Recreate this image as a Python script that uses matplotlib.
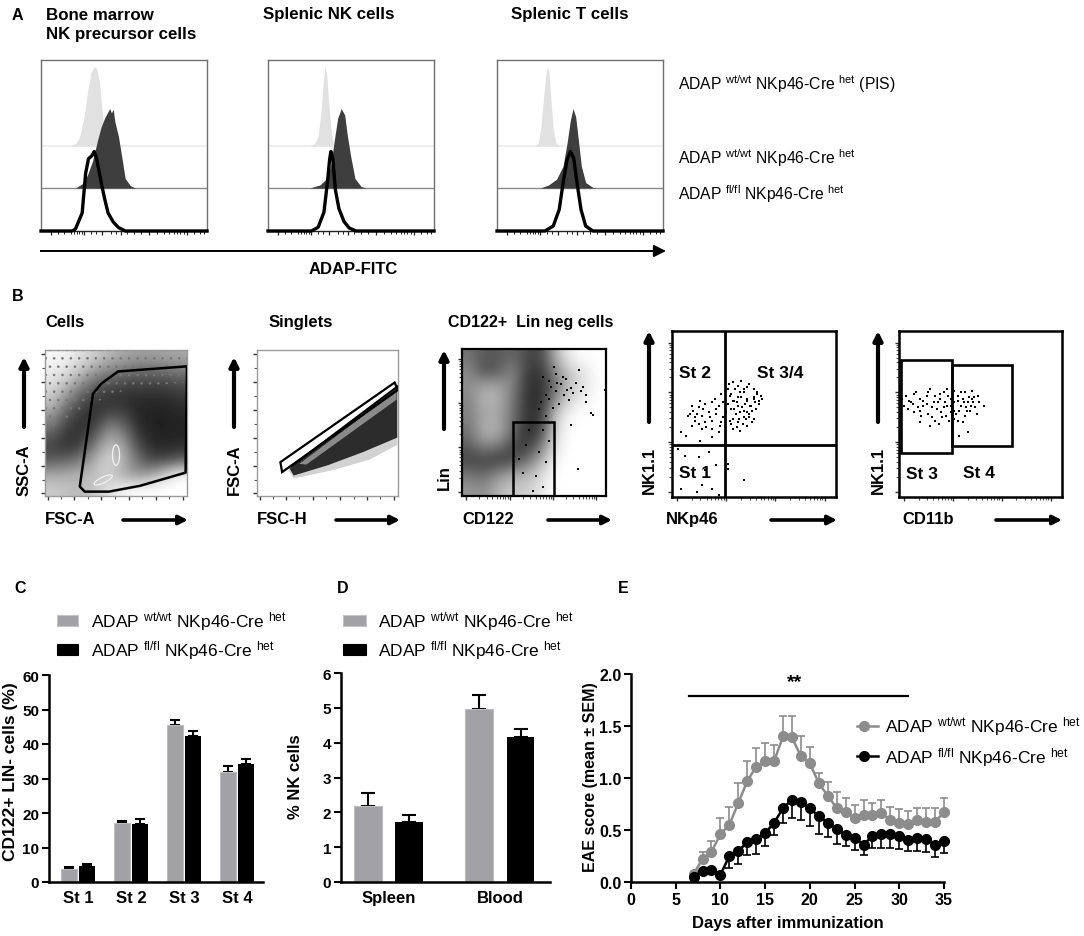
import matplotlib
matplotlib.use('Agg')
import matplotlib.pyplot as plt
import numpy as np
from matplotlib.patches import Polygon, Rectangle, Ellipse

W, H = 1084, 937
plt.rcParams['font.family'] = ['Liberation Sans', 'DejaVu Sans']
plt.rcParams['mathtext.fontset'] = 'custom'
plt.rcParams['mathtext.rm'] = 'Liberation Sans'
plt.rcParams['mathtext.it'] = 'Liberation Sans:italic'
plt.rcParams['mathtext.bf'] = 'Liberation Sans:bold'
plt.rcParams['hatch.linewidth'] = 0.6

# ------------------------------------------------------------------ data
# Panel A: histogram outlines
# x = position along the ADAP-FITC axis (fraction), h = height relative to mode
bm_pis_x = [0.176, 0.211, 0.232, 0.259, 0.280, 0.300, 0.321, 0.337, 0.352, 0.366, 0.383, 0.404]
bm_pis_h = [0, 0.036, 0.112, 0.359, 0.673, 0.919, 1.0, 0.964, 0.807, 0.493, 0.135, 0]
bm_wt_x = [0.207, 0.248, 0.280, 0.311, 0.342, 0.362, 0.383, 0.404, 0.414, 0.424, 0.435, 0.445, 0.466, 0.487, 0.507, 0.538, 0.569]
bm_wt_h = [0, 0.054, 0.165, 0.344, 0.612, 0.768, 0.879, 0.964, 1.0, 0.946, 0.991, 0.834, 0.656, 0.388, 0.121, 0.031, 0]
bm_fl_x = [0.0, 0.186, 0.207, 0.248, 0.269, 0.286, 0.306, 0.321, 0.335, 0.352, 0.369, 0.383, 0.404, 0.435, 0.466, 0.507, 1.0]
bm_fl_h = [0, 0, 0.023, 0.227, 0.727, 0.909, 0.945, 1.0, 0.909, 0.727, 0.545, 0.409, 0.227, 0.114, 0.045, 0, 0]

nk_pis_x = [0.251, 0.282, 0.302, 0.317, 0.333, 0.344, 0.354, 0.364, 0.379, 0.395, 0.416]
nk_pis_h = [0, 0.034, 0.127, 0.38, 0.80, 1.0, 0.89, 0.59, 0.21, 0.02, 0]
nk_wt_x = [0.251, 0.313, 0.354, 0.379, 0.400, 0.420, 0.441, 0.462, 0.478, 0.499, 0.524, 0.561, 0.592]
nk_wt_h = [0, 0.04, 0.12, 0.30, 0.61, 0.88, 1.0, 0.92, 0.66, 0.39, 0.12, 0.02, 0]
nk_fl_x = [0.0, 0.261, 0.302, 0.337, 0.358, 0.371, 0.379, 0.391, 0.406, 0.427, 0.458, 0.489, 0.530, 1.0]
nk_fl_h = [0, 0, 0.047, 0.236, 0.613, 0.896, 1.0, 0.896, 0.519, 0.283, 0.118, 0.038, 0, 0]

t_pis_x = [0.229, 0.249, 0.263, 0.279, 0.295, 0.303, 0.313, 0.325, 0.339, 0.355, 0.378]
t_pis_h = [0, 0.041, 0.206, 0.576, 0.905, 1.0, 0.926, 0.576, 0.206, 0.041, 0]
t_wt_x = [0.259, 0.309, 0.359, 0.398, 0.422, 0.442, 0.458, 0.474, 0.490, 0.508, 0.534, 0.578, 0.598]
t_wt_h = [0, 0.037, 0.112, 0.277, 0.566, 0.855, 1.0, 0.897, 0.607, 0.277, 0.07, 0.008, 0]
t_fl_x = [0.0, 0.289, 0.339, 0.375, 0.398, 0.422, 0.442, 0.462, 0.482, 0.506, 0.534, 0.578, 1.0]
t_fl_h = [0, 0, 0.063, 0.271, 0.604, 0.896, 1.0, 0.917, 0.604, 0.271, 0.063, 0, 0]

hist_titles = ['Bone marrow\nNK precursor cells', 'Splenic NK cells', 'Splenic T cells']

# Panel B: gating plots (axis units 0-100), density read as grey level (0 black, 1 white)
cells_density = [
    [0.97, 0.94, 0.88, 0.80, 0.72, 0.66, 0.62, 0.62, 0.64, 0.66],
    [0.93, 0.87, 0.76, 0.60, 0.50, 0.44, 0.40, 0.40, 0.42, 0.46],
    [0.86, 0.72, 0.52, 0.36, 0.28, 0.25, 0.24, 0.24, 0.24, 0.28],
    [0.76, 0.52, 0.32, 0.21, 0.19, 0.18, 0.16, 0.16, 0.16, 0.20],
    [0.60, 0.34, 0.21, 0.18, 0.32, 0.30, 0.15, 0.13, 0.13, 0.15],
    [0.42, 0.23, 0.18, 0.28, 0.58, 0.48, 0.20, 0.13, 0.13, 0.13],
    [0.27, 0.18, 0.24, 0.48, 0.75, 0.64, 0.30, 0.17, 0.15, 0.17],
    [0.34, 0.38, 0.46, 0.68, 0.86, 0.72, 0.44, 0.26, 0.26, 0.36],
    [0.66, 0.68, 0.70, 0.76, 0.80, 0.66, 0.56, 0.64, 0.84, 0.97],
    [0.80, 0.76, 0.72, 0.78, 0.88, 0.96, 1.00, 1.00, 1.00, 1.00],
]
cells_gate_x = [39.7, 51.5, 100, 99, 67, 45, 28, 24.5, 33.8]
cells_gate_y = [77, 85.3, 88.8, 16, 7, 3, 3, 6.5, 70]

singlet_band_x = [23, 99.5, 99.5, 75, 50, 26]
singlet_band_y = [19, 74.5, 40, 30, 21, 14]
singlet_core_x = [30, 99, 99, 35]
singlet_core_y = [22, 72, 66, 21.5]
singlet_gate_x = [16.6, 97.6, 100, 17.8]
singlet_gate_y = [23.2, 77.7, 72.7, 16.4]
singlet_line_x = [24.6, 99.5]
singlet_line_y = [20.5, 75]

lin_density = [
    [0.45, 0.35, 0.35, 0.40, 0.30, 0.25, 0.70, 0.95, 1.00, 1.00],
    [0.55, 0.30, 0.35, 0.55, 0.25, 0.20, 0.55, 0.80, 0.90, 1.00],
    [0.55, 0.66, 0.66, 0.52, 0.20, 0.17, 0.45, 0.78, 0.88, 1.00],
    [0.52, 0.70, 0.70, 0.48, 0.20, 0.17, 0.58, 0.86, 0.95, 1.00],
    [0.50, 0.66, 0.66, 0.45, 0.20, 0.20, 0.80, 0.97, 1.00, 1.00],
    [0.45, 0.70, 0.70, 0.45, 0.17, 0.25, 0.85, 1.00, 1.00, 1.00],
    [0.38, 0.56, 0.52, 0.30, 0.20, 0.45, 0.90, 1.00, 1.00, 1.00],
    [0.26, 0.26, 0.22, 0.26, 0.40, 0.68, 0.95, 1.00, 1.00, 1.00],
    [0.45, 0.40, 0.55, 0.65, 0.70, 0.85, 1.00, 1.00, 1.00, 1.00],
    [0.60, 0.55, 0.70, 0.80, 0.80, 0.90, 1.00, 1.00, 1.00, 1.00],
]
lin_dots_x = [56.0, 60.6, 65.3, 68.8, 72.2, 75.7, 79.2, 82.6, 86.1, 65.3, 71.1, 60.6, 67.6, 74.5, 81.5,
              89.6, 64.1, 53.7, 58.3, 75.7, 80.3, 99.0, 90.7, 86.1, 56.0, 60.6, 53.7, 58.3, 51.4, 56.0,
              44.4, 42.1, 49.1, 39.8, 46.8, 62.0, 70.0, 77.0, 84.0, 58.0, 66.0, 73.0, 55.0, 63.0]
lin_dots_y = [80.7, 78.3, 83.1, 75.9, 79.5, 73.5, 77.1, 71.1, 68.7, 71.1, 68.7, 66.3, 62.7, 65.1, 85.5,
              56.6, 88.0, 59.0, 54.2, 48.2, 18.1, 72.0, 55.4, 63.9, 44.6, 37.3, 30.1, 22.9, 13.3, 6.0,
              34.9, 15.7, 3.6, 25.3, 44.6, 74.0, 81.0, 70.0, 74.0, 69.0, 77.0, 72.0, 64.0, 60.0]
lin_gate = (35.2, 0, 64.1, 50.6)   # x0, y0, x1, y1

nk_dots_x = [37.3, 45.7, 49.9, 54.1, 41.5, 35.2, 34.1, 36.2, 37.3, 40.4, 43.6, 45.7, 47.8, 50.9, 45.7,
             39.4, 42.5, 33.1, 28.8, 24.6, 20.4, 16.2, 13.1, 10.9, 14.1, 18.3, 22.5, 26.7, 30.9, 29.9,
             24.6, 20.4, 16.2, 12.0, 9.9, 18.3, 24.6, 28.8, 5.7, 8.8, 17.3, 24.6, 37.3, 41.5, 45.7,
             49.9, 52.0, 43.6, 40.4, 37.3, 38.3, 44.6, 48.8, 46.7, 35.2, 41.5, 53.1, 34.1, 39.4, 49.9,
             3.6, 7.8, 16.2, 22.5, 26.7, 9.9, 18.3, 24.6, 28.8, 5.7, 15.2, 34.1, 34.1, 43.6, 20.4,
             36, 38, 40, 42, 44, 46, 48, 50, 52, 39, 41, 44, 47, 49, 51, 36, 43, 53, 55, 35, 40, 47,
             42, 38, 45, 12, 15, 19, 23, 27, 31, 29, 21, 14, 26, 30, 17]
nk_dots_y = [69, 66, 65, 61, 63, 61, 56, 53, 47, 45, 48, 51, 55, 57, 59,
             57, 54, 51, 55, 57, 56, 54, 52, 50, 48, 49, 51, 50, 48, 45,
             46, 45, 44, 43, 49, 41, 41, 39, 39, 37, 34, 36, 41, 40, 43,
             59, 63, 65, 60, 58, 65, 56, 52, 48, 46, 51, 58, 65, 42, 47,
             29, 25, 24, 27, 19, 13, 7, 5, 1, 5, 3, 20, 17, 10, 16,
             62, 58, 55, 60, 63, 58, 55, 60, 62, 50, 47, 52, 50, 45, 53, 44, 44, 56, 59, 68, 67, 68,
             70, 53, 47, 55, 50, 53, 48, 53, 57, 43, 42, 46, 59, 62, 58]
nk_gate_x = 32.4
nk_gate_y = 31.4

cd11b_dots_x = [2.1, 4.2, 7.4, 10.6, 12.7, 14.8, 16.9, 19.1, 21.2, 23.3, 25.4, 27.5, 29.7, 31.8, 33.9,
                36.0, 38.1, 40.3, 42.4, 44.5, 46.6, 48.7, 51.9, 5.3, 9.5, 13.8, 18.0, 22.2, 26.5, 30.7,
                35.0, 39.2, 43.4, 37.1, 42.4, 29.7, 33.9, 40.3, 44.5, 12.7, 19.1, 24.4, 32.8, 8.5, 11.7,
                27.5, 31.8, 37.1, 41.3, 45.6, 47.7, 22.2, 16.9, 36.0,
                3, 6, 9, 13, 15, 18, 20, 24, 26, 28, 30, 32, 34, 36, 38, 40, 42, 44, 46, 49, 25, 20,
                34, 29, 39, 43]
cd11b_dots_y = [59, 61, 57, 63, 59, 55, 61, 65, 57, 53, 59, 63, 55, 51, 57,
                61, 55, 49, 57, 59, 54, 61, 55, 53, 51, 49, 50, 46, 48, 46,
                50, 45, 52, 37, 39, 65, 64, 63, 64, 45, 43, 44, 42, 56, 54,
                54, 59, 52, 54, 57, 50, 61, 56, 46,
                55, 58, 62, 52, 58, 63, 54, 57, 51, 57, 61, 55, 52, 58, 63, 57, 52, 55, 60, 57, 62, 48,
                47, 49, 59, 60]
st3_gate = (1.0, 26.4, 32.8, 82.4)
st4_gate = (32.8, 31.0, 69.3, 79.4)

# Panel C
stages = ['St 1', 'St 2', 'St 3', 'St 4']
c_wt = [3.85, 17.0, 45.6, 31.8]
c_wt_err = [0.45, 0.8, 1.4, 1.7]
c_fl = [4.6, 16.7, 42.4, 34.2]
c_fl_err = [0.5, 1.6, 1.4, 1.4]

# Panel D
organs = ['Spleen', 'Blood']
d_wt = [2.19, 4.97]
d_wt_err = [0.36, 0.39]
d_fl = [1.73, 4.16]
d_fl_err = [0.20, 0.22]

# Panel E
days = list(range(7, 36))
e_wt = [0.08, 0.22, 0.29, 0.46, 0.55, 0.76, 0.97, 1.11, 1.16, 1.16, 1.40, 1.39, 1.21, 1.14, 0.95,
        0.83, 0.71, 0.67, 0.62, 0.64, 0.64, 0.66, 0.60, 0.57, 0.56, 0.60, 0.58, 0.58, 0.67]
e_wt_err = [0.02, 0.07, 0.10, 0.16, 0.17, 0.19, 0.19, 0.18, 0.18, 0.16, 0.20, 0.21, 0.19, 0.16, 0.10,
            0.13, 0.16, 0.14, 0.12, 0.15, 0.12, 0.13, 0.12, 0.13, 0.12, 0.11, 0.13, 0.13, 0.14]
e_fl = [0.05, 0.11, 0.12, 0.07, 0.25, 0.30, 0.38, 0.41, 0.47, 0.57, 0.71, 0.79, 0.77, 0.71, 0.63,
        0.57, 0.51, 0.45, 0.42, 0.36, 0.44, 0.46, 0.46, 0.44, 0.40, 0.42, 0.41, 0.36, 0.39]
e_fl_err = [0.02, 0.02, 0.02, 0.02, 0.12, 0.13, 0.12, 0.14, 0.12, 0.12, 0.14, 0.17, 0.17, 0.17, 0.17,
            0.14, 0.14, 0.10, 0.11, 0.10, 0.11, 0.13, 0.13, 0.12, 0.10, 0.12, 0.12, 0.12, 0.11]
sig_start, sig_end, sig_level = 6.5, 31.0, 1.79

GRAY_BAR = '#a2a2a6'
GRAY_LINE = '#8c8c8c'

# ------------------------------------------------------------------ figure
fig = plt.figure(figsize=(W / 100, H / 100), dpi=100)


def new_ax(x0, y0, x1, y1, **kw):
    return fig.add_axes([x0 / W, 1 - y1 / H, (x1 - x0) / W, (y1 - y0) / H], **kw)


def geno(g):
    return 'ADAP $^{\\mathrm{%s}}$ NKp46-Cre $^{\\mathrm{het}}$' % g


ov = new_ax(0, 0, W, H, zorder=20)
ov.set_xlim(0, W)
ov.set_ylim(H, 0)
ov.axis('off')
ov.patch.set_alpha(0)


def label(x, y, s, size=11.5, bold=True, **kw):
    kw.setdefault('ha', 'left')
    kw.setdefault('va', 'center')
    ov.text(x, y, s, fontsize=size, fontweight='bold' if bold else 'normal', **kw)


def arrow(x0, y0, x1, y1, lw=2.4, ms=13):
    ov.annotate('', xy=(x1, y1), xytext=(x0, y0),
                arrowprops=dict(arrowstyle='-|>', lw=lw, color='k', mutation_scale=ms,
                                shrinkA=0, shrinkB=0))


# panel letters
label(12, 15, 'A', 11.5)
label(12, 297, 'B', 11.5)
label(14, 589, 'C', 11.5)
label(337, 589, 'D', 11.5)
label(618, 589, 'E', 11.5)

# ------------------------------------------------------------------ Panel A
S = 0.465
minor_a = [0.10, 0.14, 0.18, 0.20, 0.215, 0.23, 0.245, 0.30, 0.33, 0.42, 0.45, 0.52, 0.56, 0.60,
           0.70, 0.74, 0.77, 0.80, 0.82, 0.84, 0.86, 0.92, 0.96, 0.98]
major_a = [0.06, 0.26, 0.37, 0.48, 0.65, 0.88]
hist_sets = [
    (41, 207, (bm_pis_x, bm_pis_h), (bm_wt_x, bm_wt_h), (bm_fl_x, bm_fl_h)),
    (268, 434, (nk_pis_x, nk_pis_h), (nk_wt_x, nk_wt_h), (nk_fl_x, nk_fl_h)),
    (497, 663, (t_pis_x, t_pis_h), (t_wt_x, t_wt_h), (t_fl_x, t_fl_h)),
]
for (x0, x1, pis, wt, fl) in hist_sets:
    ax = new_ax(x0, 61, x1, 232)
    ax.set_xlim(0, 1)
    ax.set_ylim(0, 1)
    ax.axhline(0.497, color='#ececec', lw=1.3, zorder=1)
    ax.axhline(0.251, color='#8a8a8a', lw=1.0, zorder=1)
    ax.fill_between(pis[0], 0.497, 0.497 + S * np.array(pis[1]), color='#e1e1e1', lw=0, zorder=2)
    ax.fill_between(wt[0], 0.251, 0.251 + S * np.array(wt[1]), color='#3e3e3e', lw=0, zorder=3)
    ax.plot(fl[0], S * np.array(fl[1]), color='k', lw=2.4, zorder=4, clip_on=False,
            solid_joinstyle='round')
    for sp in ax.spines.values():
        sp.set_color('#707070')
        sp.set_linewidth(1.0)
    ax.spines['bottom'].set_color('#222222')
    ax.set_yticks([])
    ax.set_xticks(major_a)
    ax.set_xticks(minor_a, minor=True)
    ax.set_xticklabels([])
    ax.tick_params(axis='x', which='major', direction='out', length=3, width=0.9, color='#222')
    ax.tick_params(axis='x', which='minor', direction='out', length=1.8, width=0.7, color='#222')

label(46, 15, 'Bone marrow', 12.2)
label(46, 34, 'NK precursor cells', 12.2)
label(263, 15, hist_titles[1], 12.2)
label(511, 15, hist_titles[2], 12.2)
label(678, 84, geno('wt/wt') + ' (PIS)', 11.3, bold=False)
label(678, 158, geno('wt/wt'), 11.3, bold=False)
label(678, 194, geno('fl/fl'), 11.3, bold=False)
ov.plot([41, 655], [252, 252], color='k', lw=1.4)
arrow(640, 252, 666, 252, lw=1.4, ms=18)
label(353, 270, 'ADAP-FITC', 12, ha='center')

# ------------------------------------------------------------------ Panel B


def flow_ax(x0, y0, x1, y1, frame='#9a9a9a', flw=1.0, logticks=False):
    ax = new_ax(x0, y0, x1, y1)
    ax.set_xlim(0, 100)
    ax.set_ylim(0, 100)
    for sp in ax.spines.values():
        sp.set_color(frame)
        sp.set_linewidth(flw)
    if logticks:
        maj = [3, 33, 63, 93]
        mnr = [d + 30 * np.log10(k) for d in [3, 33, 63] for k in range(2, 10)]
    else:
        maj = [2, 20.5, 39.5, 59, 78, 97]
        mnr = [11, 30, 49, 68.5, 87.5]
    for setter in (ax.set_xticks, ax.set_yticks):
        setter(maj)
        setter(mnr, minor=True)
    ax.set_xticklabels([])
    ax.set_yticklabels([])
    ax.tick_params(which='major', direction='out', length=3, width=1.0, color='#333')
    ax.tick_params(which='minor', direction='out', length=2, width=0.8, color='#555')
    return ax


# Cells
ax = flow_ax(45, 351, 187, 497)
ax.imshow(cells_density, extent=(0, 100, 0, 100), cmap='gray', vmin=0, vmax=1,
          interpolation='bicubic', aspect='auto', origin='upper', zorder=1)
ax.add_patch(Polygon([(0, 100), (100, 100), (100, 78), (60, 74), (30, 62), (0, 42)], closed=True,
                     fill=False, hatch='..', ec='#777777', lw=0, zorder=2))
ax.add_patch(Ellipse((50, 28), 5, 14, fill=False, ec='#f4f4f4', lw=0.9, zorder=2))
ax.add_patch(Ellipse((41, 11), 14, 4, angle=25, fill=False, ec='#f4f4f4', lw=0.8, zorder=2))
ax.add_patch(Polygon(list(zip(cells_gate_x, cells_gate_y)), closed=True, fill=False,
                     ec='k', lw=1.8, zorder=3, joinstyle='round'))

# Singlets
ax = flow_ax(257, 351, 398, 497)
ax.add_patch(Polygon([(22, 18), (26, 12), (55, 18), (80, 25), (99.5, 35), (99.5, 42)],
                     closed=True, fc='#d2d2d2', ec='none', zorder=1))
ax.add_patch(Polygon(list(zip(singlet_band_x, singlet_band_y)), closed=True,
                     fc='#2c2c2c', ec='none', zorder=2))
ax.add_patch(Polygon(list(zip(singlet_core_x, singlet_core_y)), closed=True,
                     fc='#8a8a8a', ec='none', zorder=3))
ax.add_patch(Polygon(list(zip(singlet_gate_x, singlet_gate_y)), closed=True, fill=False,
                     ec='k', lw=1.6, zorder=4))
ax.plot(singlet_line_x, singlet_line_y, color='k', lw=1.4, zorder=4)

# CD122+ Lin neg
ax = flow_ax(462, 350, 606, 497, frame='k', flw=1.6, logticks=True)
ax.imshow(lin_density, extent=(0, 100, 0, 100), cmap='gray', vmin=0, vmax=1,
          interpolation='bicubic', aspect='auto', origin='upper', zorder=1)
ax.plot(lin_dots_x, lin_dots_y, 's', color='k', ms=1.8, mew=0, zorder=2, clip_on=False)
x0, y0, x1, y1 = lin_gate
ax.add_patch(Rectangle((x0, y0), x1 - x0, y1 - y0, fill=False, ec='k', lw=1.8, zorder=3))

# NK1.1 vs NKp46
ax = flow_ax(672, 332, 836, 498, frame='k', flw=1.8, logticks=True)
ax.plot(nk_dots_x, nk_dots_y, 's', color='k', ms=1.9, mew=0, zorder=2)
ax.axvline(nk_gate_x, color='k', lw=2.0)
ax.axhline(nk_gate_y, color='k', lw=2.0)
ax.text(4, 75, 'St 2', fontsize=12.5, fontweight='bold', va='center')
ax.text(52, 75, 'St 3/4', fontsize=12.5, fontweight='bold', va='center')
ax.text(4, 15, 'St 1', fontsize=12.5, fontweight='bold', va='center')

# NK1.1 vs CD11b
ax = flow_ax(899, 332, 1062, 498, frame='k', flw=1.8, logticks=True)
ax.plot(cd11b_dots_x, cd11b_dots_y, 's', color='k', ms=1.9, mew=0, zorder=2)
for g in (st3_gate, st4_gate):
    ax.add_patch(Rectangle((g[0], g[1]), g[2] - g[0], g[3] - g[1], fill=False, ec='k', lw=1.9))
ax.text(4, 14, 'St 3', fontsize=12.5, fontweight='bold', va='center')
ax.text(39, 15, 'St 4', fontsize=12.5, fontweight='bold', va='center')

label(45, 323, 'Cells', 12)
label(269, 323, 'Singlets', 12)
label(448, 323, 'CD122+  Lin neg cells', 11.5)
for (xa, ytop, ybot, txt, ty) in [(24, 358, 428, 'SSC-A', 470), (234, 358, 428, 'FSC-A', 470),
                                 (444, 351, 430, 'Lin', 478), (649, 332, 423, 'NK1.1', 470),
                                 (878, 332, 423, 'NK1.1', 470)]:
    arrow(xa, ybot, xa, ytop, lw=3.0, ms=13)
    label(xa, ty, txt, 12, ha='center', rotation=90)
for (xl, txt, ax0, ax1) in [(45, 'FSC-A', 123, 188), (257, 'FSC-H', 336, 400),
                            (462, 'CD122', 548, 612), (666, 'NKp46', 771, 837),
                            (902, 'CD11b', 996, 1062)]:
    label(xl, 520, txt, 12)
    arrow(ax0, 521, ax1, 521, lw=2.6, ms=13)

# ------------------------------------------------------------------ Panel C


def style_bar_axes(ax):
    for s in ('top', 'right'):
        ax.spines[s].set_visible(False)
    for s in ('left', 'bottom'):
        ax.spines[s].set_linewidth(1.8)
    ax.tick_params(axis='y', direction='out', length=5, width=1.5, labelsize=11, pad=2)
    ax.tick_params(axis='x', length=0, labelsize=12, pad=6)
    for t in ax.get_xticklabels() + ax.get_yticklabels():
        t.set_fontweight('bold')


axC = new_ax(49, 676, 263, 883)
xc = np.arange(len(stages))
axC.bar(xc - 0.17, c_wt, width=0.29, color=GRAY_BAR, ec='#bdbdc0', lw=0.8, zorder=2)
axC.bar(xc + 0.17, c_fl, width=0.29, color='k', zorder=2)
axC.errorbar(xc - 0.17, c_wt, yerr=[np.zeros(4), c_wt_err], fmt='none', ecolor='k',
             elinewidth=1.5, capsize=3.5, capthick=1.5, zorder=1)
axC.errorbar(xc + 0.17, c_fl, yerr=[np.zeros(4), c_fl_err], fmt='none', ecolor='k',
             elinewidth=1.5, capsize=3.5, capthick=1.5, zorder=1)
axC.set_xlim(-0.55, 3.49)
axC.set_ylim(0, 60)
axC.set_yticks(range(0, 61, 10))
axC.set_xticks(xc)
axC.set_xticklabels(stages)
style_bar_axes(axC)
label(11, 772, 'CD122+ LIN- cells (%)', 12.5, ha='center', rotation=90)
ov.add_patch(Rectangle((57, 616), 21, 11, fc=GRAY_BAR, ec='#c4c4c4', lw=0.8))
ov.add_patch(Rectangle((57, 645), 21, 11, fc='k', ec='k', lw=0.8))
label(91, 622, geno('wt/wt'), 12.5, bold=False)
label(91, 651, geno('fl/fl'), 12.5, bold=False)

# ------------------------------------------------------------------ Panel D
axD = new_ax(341, 674, 550, 883)
xd = np.arange(len(organs))
axD.bar(xd - 0.19, d_wt, width=0.25, color=GRAY_BAR, ec='#bdbdc0', lw=0.8, zorder=2)
axD.bar(xd + 0.185, d_fl, width=0.25, color='k', zorder=2)
axD.errorbar(xd - 0.19, d_wt, yerr=[np.zeros(2), d_wt_err], fmt='none', ecolor='k',
             elinewidth=1.5, capsize=5, capthick=1.5, zorder=1)
axD.errorbar(xd + 0.185, d_fl, yerr=[np.zeros(2), d_fl_err], fmt='none', ecolor='k',
             elinewidth=1.5, capsize=5, capthick=1.5, zorder=1)
axD.set_xlim(-0.43, 1.45)
axD.set_ylim(0, 6)
axD.set_yticks(range(0, 7))
axD.set_xticks(xd)
axD.set_xticklabels(organs)
style_bar_axes(axD)
label(295, 777, '% NK cells', 12, ha='center', rotation=90)
ov.add_patch(Rectangle((343, 616), 23, 11, fc=GRAY_BAR, ec='#c4c4c4', lw=0.8))
ov.add_patch(Rectangle((343, 645), 23, 11, fc='k', ec='k', lw=0.8))
label(378, 622, geno('wt/wt'), 12.5, bold=False)
label(378, 651, geno('fl/fl'), 12.5, bold=False)

# ------------------------------------------------------------------ Panel E
axE = new_ax(631, 675, 944, 883)
axE.errorbar(days, e_wt, yerr=[np.zeros(len(days)), e_wt_err], fmt='none', ecolor=GRAY_LINE,
             elinewidth=1.2, capsize=3.2, capthick=1.2, zorder=2, clip_on=False)
axE.errorbar(days, e_fl, yerr=[e_fl_err, np.zeros(len(days))], fmt='none', ecolor='k',
             elinewidth=1.2, capsize=3.2, capthick=1.2, zorder=2, clip_on=False)
axE.plot(days, e_wt, '-o', color=GRAY_LINE, ms=7, lw=1.8, mec=GRAY_LINE, zorder=3, clip_on=False)
axE.plot(days, e_fl, '-o', color='k', ms=7, lw=1.8, zorder=4, clip_on=False)
axE.plot([sig_start, sig_end], [sig_level, sig_level], color='k', lw=1.6, clip_on=False)
axE.text((sig_start + sig_end) / 2 - 0.5, 1.93, '**', fontsize=14, fontweight='bold',
         ha='center', va='center')
axE.set_xlim(0, 35)
axE.set_ylim(0, 2.0)
axE.set_xticks(range(0, 36, 5))
axE.set_yticks([0, 0.5, 1.0, 1.5, 2.0])
axE.set_yticklabels(['0.0', '0.5', '1.0', '1.5', '2.0'])
for s in ('top', 'right'):
    axE.spines[s].set_visible(False)
for s in ('left', 'bottom'):
    axE.spines[s].set_linewidth(1.8)
axE.tick_params(direction='out', length=5, width=1.5, labelsize=11.5, pad=2)
for t in axE.get_xticklabels() + axE.get_yticklabels():
    t.set_fontweight('bold')
axE.plot([25.3, 27.6], [1.50, 1.50], color=GRAY_LINE, lw=1.8, clip_on=False)
axE.plot([26.1], [1.50], 'o', color=GRAY_LINE, ms=7, clip_on=False)
axE.plot([25.3, 27.6], [1.21, 1.21], color='k', lw=1.8, clip_on=False)
axE.plot([26.1], [1.21], 'o', color='k', ms=7, clip_on=False)
axE.text(28.4, 1.50, geno('wt/wt'), fontsize=12.5, va='center')
axE.text(28.4, 1.21, geno('fl/fl'), fontsize=12.5, va='center')
label(788, 924, 'Days after immunization', 12, ha='center')
label(591, 777, 'EAE score (mean ± SEM)', 11.5, ha='center', rotation=90)

fig.savefig('out.png', dpi=100)
